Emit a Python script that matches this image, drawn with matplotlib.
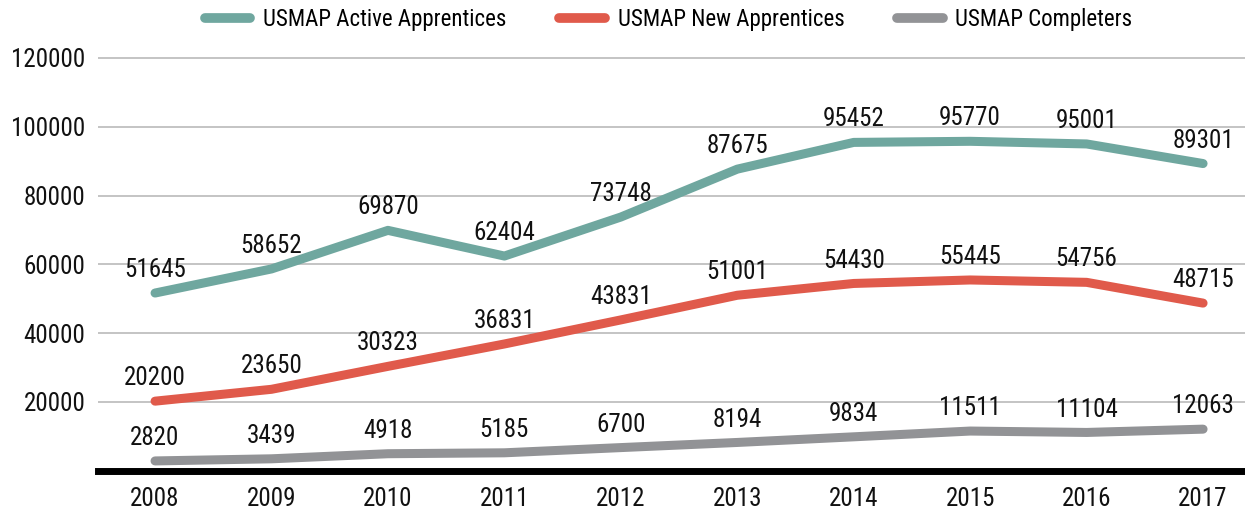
import matplotlib
matplotlib.use("Agg")
import matplotlib.pyplot as plt

plt.rcParams["font.family"] = ["Roboto Condensed", "Liberation Sans Narrow", "Roboto", "DejaVu Sans"]

years = ["2008", "2009", "2010", "2011", "2012", "2013", "2014", "2015", "2016", "2017"]
active = [51645, 58652, 69870, 62404, 73748, 87675, 95452, 95770, 95001, 89301]
new = [20200, 23650, 30323, 36831, 43831, 51001, 54430, 55445, 54756, 48715]
completers = [2820, 3439, 4918, 5185, 6700, 8194, 9834, 11511, 11104, 12063]

series = [
    ("USMAP Active Apprentices", active, "#6fa79f"),
    ("USMAP New Apprentices", new, "#e05a4b"),
    ("USMAP Completers", completers, "#929396"),
]

fig = plt.figure(figsize=(12.45, 5.11), dpi=100)
ax = fig.add_axes([0.0787, 0.079, 0.9213, 0.823])

x = list(range(len(years)))
for name, vals, col in series:
    ax.plot(x, vals, color=col, lw=6.5, solid_capstyle="round",
            solid_joinstyle="round", label=name, zorder=3)
    for xi, v in zip(x, vals):
        ax.annotate(str(v), (xi, v), xytext=(0, 16.5), textcoords="offset points",
                    ha="center", va="center", fontsize=18, color="#111111")

ax.set_xlim(-0.49, 9.36)
ax.set_ylim(0, 122300)
ax.set_yticks([20000, 40000, 60000, 80000, 100000, 120000])
ax.set_xticks(x)
ax.set_xticklabels(years)
ax.tick_params(axis="both", length=0, labelsize=18, colors="#111111")
ax.tick_params(axis="y", pad=9)
ax.tick_params(axis="x", pad=12)
ax.grid(axis="y", color="#c4c4c4", lw=1.4)
ax.set_axisbelow(True)
for s in ax.spines.values():
    s.set_visible(False)
ax.axhline(0, color="black", lw=5, clip_on=False, zorder=4)

leg = fig.legend(loc="upper center", bbox_to_anchor=(0.537, 1.025), ncol=3,
                 frameon=False, fontsize=16.5, handlelength=2.0,
                 columnspacing=2.3, handletextpad=0.55)
for h in leg.get_lines():
    h.set_linewidth(7)
    h.set_solid_capstyle("round")

fig.savefig("out.png", dpi=100)
